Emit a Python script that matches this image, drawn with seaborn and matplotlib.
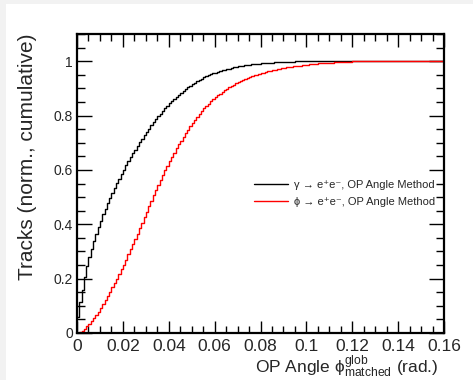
import numpy as np
import pandas as pd
import matplotlib
matplotlib.use("Agg")
import matplotlib.pyplot as plt
import seaborn as sns
from matplotlib.patches import Rectangle
from matplotlib.ticker import MultipleLocator, FixedLocator

# ---------------- data (cumulative, normalised, per 0.001 rad bin) ----------------
bin_width = 0.001
n_bins = 160

gamma_cum = [
    0.060, 0.115, 0.160, 0.205, 0.245, 0.280, 0.310, 0.340, 0.365, 0.390,
    0.413, 0.436, 0.457, 0.478, 0.498, 0.516, 0.534, 0.551, 0.568, 0.585,
    0.601, 0.617, 0.632, 0.647, 0.661, 0.675, 0.689, 0.702, 0.715, 0.728,
    0.740, 0.752, 0.764, 0.775, 0.786, 0.797, 0.807, 0.817, 0.827, 0.836,
    0.845, 0.853, 0.861, 0.869, 0.877, 0.884, 0.891, 0.898, 0.904, 0.910,
    0.916, 0.921, 0.926, 0.931, 0.936, 0.940, 0.944, 0.948, 0.952, 0.955,
    0.958, 0.961, 0.964, 0.967, 0.969, 0.971, 0.973, 0.975, 0.977, 0.979,
    0.981, 0.982, 0.984, 0.985, 0.986, 0.987, 0.988, 0.989, 0.990, 0.991,
    0.992, 0.993, 0.993, 0.994, 0.995, 0.995, 0.996, 0.996, 0.997, 0.997,
    0.997, 0.998, 0.998, 0.998, 0.998, 0.999, 0.999, 0.999, 0.999, 0.999,
    0.999, 0.999, 0.999, 0.999, 0.999, 0.999, 0.999, 0.999, 0.999, 0.999,
    1.000, 1.000, 1.000, 1.000, 1.000, 1.000, 1.000, 1.000, 1.000, 1.000,
    1.000, 1.000, 1.000, 1.000, 1.000, 1.000, 1.000, 1.000, 1.000, 1.000,
    1.000, 1.000, 1.000, 1.000, 1.000, 1.000, 1.000, 1.000, 1.000, 1.000,
    1.000, 1.000, 1.000, 1.000, 1.000, 1.000, 1.000, 1.000, 1.000, 1.000,
    1.000, 1.000, 1.000, 1.000, 1.000, 1.000, 1.000, 1.000, 1.000, 1.000,
]

phi_cum = [
    0.001, 0.004, 0.009, 0.016, 0.024, 0.033, 0.043, 0.054, 0.066, 0.079,
    0.093, 0.107, 0.121, 0.136, 0.152, 0.168, 0.184, 0.200, 0.217, 0.234,
    0.252, 0.270, 0.289, 0.308, 0.327, 0.346, 0.366, 0.386, 0.406, 0.426,
    0.446, 0.466, 0.486, 0.506, 0.526, 0.544, 0.562, 0.580, 0.598, 0.615,
    0.632, 0.648, 0.664, 0.679, 0.694, 0.708, 0.722, 0.735, 0.748, 0.760,
    0.772, 0.784, 0.795, 0.806, 0.816, 0.826, 0.835, 0.844, 0.852, 0.860,
    0.867, 0.874, 0.881, 0.887, 0.893, 0.899, 0.904, 0.909, 0.914, 0.919,
    0.923, 0.927, 0.931, 0.935, 0.939, 0.942, 0.945, 0.948, 0.951, 0.954,
    0.956, 0.958, 0.961, 0.963, 0.965, 0.967, 0.969, 0.970, 0.972, 0.974,
    0.975, 0.977, 0.978, 0.979, 0.981, 0.982, 0.983, 0.984, 0.985, 0.986,
    0.987, 0.988, 0.989, 0.990, 0.991, 0.992, 0.992, 0.993, 0.994, 0.994,
    0.995, 0.995, 0.996, 0.996, 0.997, 0.997, 0.997, 0.998, 0.998, 0.998,
    0.999, 0.999, 0.999, 0.999, 0.999, 1.000, 1.000, 1.000, 1.000, 1.000,
    1.000, 1.000, 1.000, 1.000, 1.000, 1.000, 1.000, 1.000, 1.000, 1.000,
    1.000, 1.000, 1.000, 1.000, 1.000, 1.000, 1.000, 1.000, 1.000, 1.000,
    1.000, 1.000, 1.000, 1.000, 1.000, 1.000, 1.000, 1.000, 1.000, 1.000,
]

series_labels = ["γ → e⁺e⁻, OP Angle Method", "ϕ → e⁺e⁻, OP Angle Method"]
series_colors = ["black", "#ff0000"]

x_ticks = [0, 0.02, 0.04, 0.06, 0.08, 0.10, 0.12, 0.14, 0.16]
x_tick_labels = ["0", "0.02", "0.04", "0.06", "0.08", "0.1", "0.12", "0.14", "0.16"]
y_ticks = [0, 0.2, 0.4, 0.6, 0.8, 1.0]
y_tick_labels = ["0", "0.2", "0.4", "0.6", "0.8", "1"]

# ---------------- figure ----------------
sns.set_theme(style="ticks")
plt.rcParams["font.family"] = ["Liberation Sans", "DejaVu Sans"]
plt.rcParams["mathtext.fontset"] = "custom"
plt.rcParams["mathtext.rm"] = "Liberation Sans"
plt.rcParams["mathtext.it"] = "Liberation Sans"

W, H = 473, 380
fig = plt.figure(figsize=(W / 100, H / 100), dpi=100, facecolor="#f2f2f2")
fig.patches.append(Rectangle((6 / W, 0), 1 - 6 / W, 1 - 4 / H, transform=fig.transFigure,
                             facecolor="white", edgecolor="none", zorder=-5))

ax = fig.add_axes([77 / W, 1 - 333 / H, (444 - 77) / W, (333 - 34) / H])
ax.set_facecolor("white")

edges = np.arange(n_bins + 1) * bin_width
centers = (edges[:-1] + edges[1:]) / 2
df = pd.DataFrame({
    "angle": np.concatenate([centers, centers]),
    "cum": np.concatenate([gamma_cum, phi_cum]),
    "series": [series_labels[0]] * n_bins + [series_labels[1]] * n_bins,
})

for lab, col in zip(series_labels, series_colors):
    sub = df[df["series"] == lab]
    sns.histplot(data=sub, x="angle", weights="cum", binwidth=bin_width,
                 binrange=(0, n_bins * bin_width), element="step",
                 fill=False, color=col, linewidth=1.0, ax=ax)

ax.set_xlim(0, 0.16)
ax.set_ylim(0, 1.1)

ax.xaxis.set_major_locator(FixedLocator(x_ticks))
ax.set_xticklabels(x_tick_labels)
ax.xaxis.set_minor_locator(MultipleLocator(0.005))
ax.yaxis.set_major_locator(FixedLocator(y_ticks))
ax.set_yticklabels(y_tick_labels)
ax.yaxis.set_minor_locator(MultipleLocator(0.05))

ax.tick_params(axis="both", which="both", direction="in", top=True, right=True,
               color="black")
ax.tick_params(axis="x", which="major", length=9, width=1.0, labelsize=12.5, pad=4)
ax.tick_params(axis="x", which="minor", length=5, width=1.0)
ax.tick_params(axis="y", which="major", length=11, width=1.0, labelsize=10, pad=3)
ax.tick_params(axis="y", which="minor", length=6, width=1.0)
for sp in ax.spines.values():
    sp.set_visible(True)
    sp.set_color("black")
    sp.set_linewidth(1.6)

ax.set_xlabel(r"OP Angle $\mathregular{\phi^{glob}_{matched}}$ (rad.)", fontsize=12.5,
              loc="right", labelpad=0)
ax.xaxis.label.set_x((438 - 77) / (444 - 77))
ax.set_ylabel("Tracks (norm., cumulative)", fontsize=15, labelpad=11.5, loc="top")

handles = ax.lines[:2]
ax.legend(handles, series_labels, loc="center left",
          bbox_to_anchor=((250 - 77) / (444 - 77), (333 - 193.5) / (333 - 34)),
          frameon=False, fontsize=8, handlelength=3.0, handletextpad=0.6,
          labelspacing=0.7, borderaxespad=0, borderpad=0.4)

fig.savefig("out.png", dpi=100, facecolor=fig.get_facecolor())
